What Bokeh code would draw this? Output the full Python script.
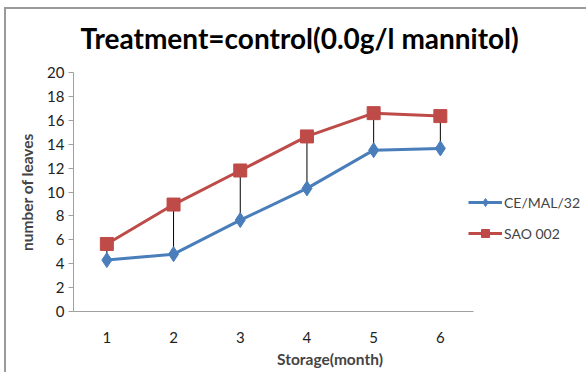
from bokeh.plotting import figure
from bokeh.models import Range1d, FixedTicker, Legend, LegendItem, Title
from bokeh.embed import file_html
from bokeh.resources import INLINE

months = [1, 2, 3, 4, 5, 6]
ce_mal_32 = [4.3, 4.8, 7.65, 10.3, 13.5, 13.65]
sao_002 = [5.65, 8.95, 11.8, 14.65, 16.6, 16.35]
y_ticks = [0, 2, 4, 6, 8, 10, 12, 14, 16, 18, 20]

FONT = "Lato"
UNIT_PX = 66.7
X_END = 0.5 + (586 - 73) / UNIT_PX

p = figure(width=586, height=372, output_backend="svg", toolbar_location=None,
           x_range=Range1d(0.5, X_END), y_range=Range1d(0, 20),
           min_border_left=73, min_border_right=0, min_border_top=72, min_border_bottom=61,
           outline_line_color=None, background_fill_color="white", border_fill_color="white")
p.xgrid.visible = False
p.ygrid.visible = False

# high-low lines
p.segment(x0=months, y0=ce_mal_32, x1=months, y1=sao_002, line_color="black", line_width=1)

r1 = p.line(months, ce_mal_32, line_color="#4a7ebb", line_width=3)
m1 = p.scatter(months, ce_mal_32, marker="diamond", size=15, fill_color="#4a7ebb", line_color="#4a7ebb")
r2 = p.line(months, sao_002, line_color="#be4b48", line_width=3)
m2 = p.scatter(months, sao_002, marker="square", size=13, fill_color="#be4b48", line_color="#be4b48")

# axes
p.xaxis.bounds = (0.5, 6.5)
p.xaxis.ticker = FixedTicker(ticks=months)
p.xaxis.major_tick_line_color = None
p.xaxis.minor_tick_line_color = None
p.xaxis.axis_line_color = "#a0a0a0"
p.xaxis.major_label_text_font = FONT
p.xaxis.major_label_text_font_size = "15px"
p.xaxis.major_label_text_color = "#222222"
p.xaxis.major_label_standoff = 14
p.xaxis.axis_label = "Storage(month)"
p.xaxis.axis_label_text_font = FONT
p.xaxis.axis_label_text_font_size = "15.5px"
p.xaxis.axis_label_text_font_style = "bold"
p.xaxis.axis_label_standoff = 4

p.yaxis.ticker = FixedTicker(ticks=y_ticks)
p.yaxis.minor_tick_line_color = None
p.yaxis.major_tick_in = 0
p.yaxis.major_tick_out = 5
p.yaxis.major_tick_line_color = "#a0a0a0"
p.yaxis.axis_line_color = "#a0a0a0"
p.yaxis.major_label_text_font = FONT
p.yaxis.major_label_text_font_size = "15px"
p.yaxis.major_label_text_color = "#222222"
p.yaxis.major_label_standoff = 4
p.yaxis.axis_label = "number of leaves"
p.yaxis.axis_label_text_font = FONT
p.yaxis.axis_label_text_font_size = "15.5px"
p.yaxis.axis_label_text_font_style = "bold"
p.yaxis.axis_label_standoff = 8

# title
t = Title(text="Treatment=control(0.0g/l mannitol)", align="left",
          text_font=FONT, text_font_size="28px", text_font_style="bold",
          text_color="black", offset=7, standoff=35)
p.add_layout(t, "above")

legend = Legend(items=[LegendItem(label="CE/MAL/32", renderers=[r1, m1]),
                       LegendItem(label="SAO 002", renderers=[r2, m2])],
                location=(395, 68), orientation="vertical",
                label_text_font=FONT, label_text_font_size="14px",
                glyph_width=34, glyph_height=20, label_standoff=2, spacing=11,
                padding=0, margin=0, border_line_color=None, background_fill_alpha=0)
p.add_layout(legend, "center")

html = file_html(p, INLINE)
border = ('<div style="position:fixed;left:4px;top:7px;right:0;bottom:0;'
          'border-left:2px solid #9a9a9a;border-top:2px solid #9a9a9a;'
          'pointer-events:none;z-index:10"></div>')
html = html.replace("</body>", border + "</body>", 1)
open("out.html", "w").write(html)
